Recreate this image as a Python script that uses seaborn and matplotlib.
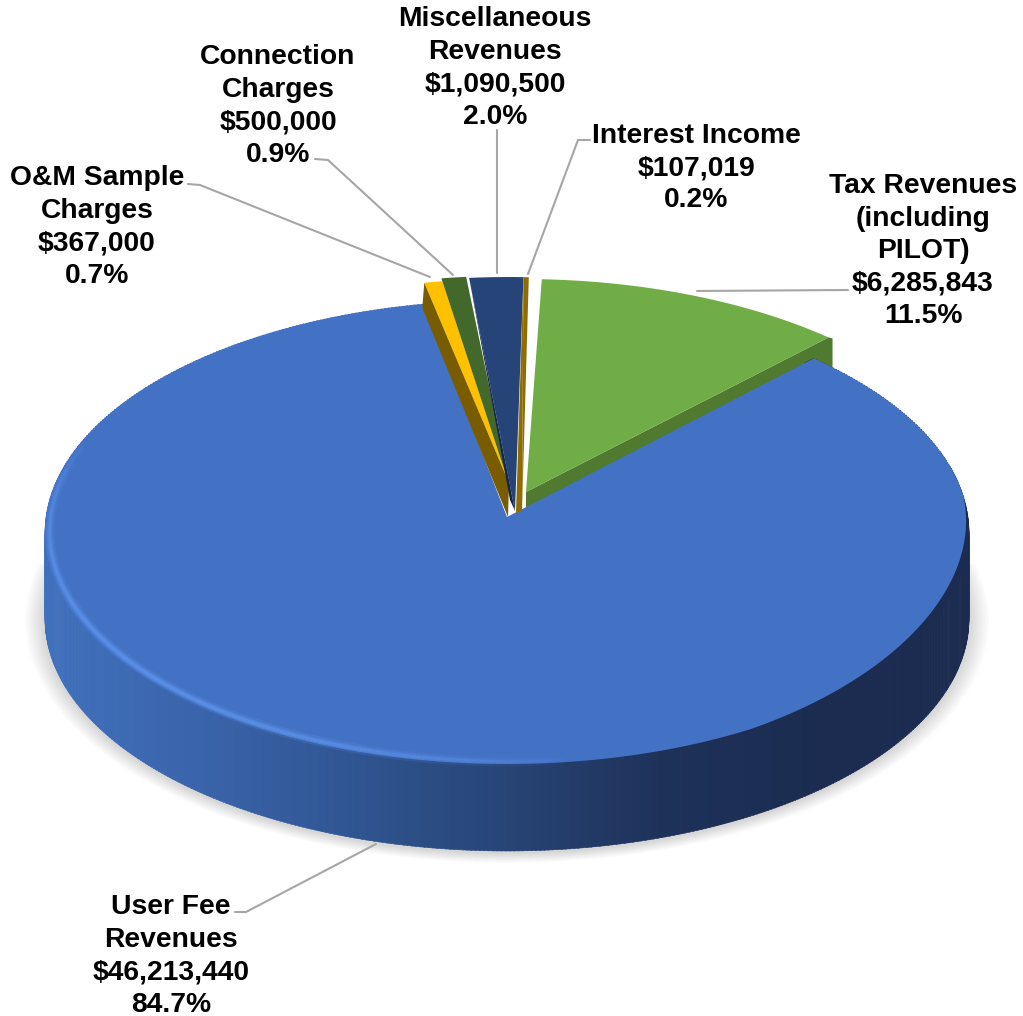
import numpy as np
import matplotlib
matplotlib.use("Agg")
import matplotlib.pyplot as plt
from matplotlib.collections import LineCollection
import seaborn as sns

# Revenue sources, clockwise from the back of the pie
categories = ["O&M Sample\nCharges", "Connection\nCharges", "Miscellaneous\nRevenues",
              "Interest Income", "Tax Revenues\n(including\nPILOT)", "User Fee\nRevenues"]
revenues = [367000, 500000, 1090500, 107019, 6285843, 46213440]

sns.set_theme(style="white")
plt.rcParams["font.family"] = ["Liberation Sans", "DejaVu Sans"]

face_colors = sns.color_palette(["#FFC000", "#43682B", "#264478", "#8F6C00", "#70AD47", "#4371C4"])
wall_colors = sns.color_palette(["#7A5C00", "#2F4A1E", "#14264A", "#8F6C00", "#4F7A30", "#4371C4"])
side_ramp = sns.blend_palette(["#4070BC", "#3A64AB", "#2F5591", "#274475", "#1E3159", "#1B2C50", "#1B2C50"], 256)

# Projection of the pie disc onto the page
CX, CY, RX, RY, PERSP = 507.0, 517.0, 461.0, 231.0, 0.0647
DEPTH = 87.0
START = 349.0

# Screen shift of each raised slice: (at the hub), (at the rim), and the foot of its inner wall
raise_hub = [(2, -34), (4, -27), (8, -6), (15, -6), (19, -25)]
raise_rim = [(0, -21), (-1, -24), (2, -23), (2, -23), (15, -21)]
wall_foot = [(508, 517), None, (510, 500), (516, 513), None]
wall_drop = [25, 0, 0, 0, 0]


def project(theta, r=1.0):
    t = np.radians(theta)
    u, v = r * np.sin(t), r * np.cos(t)
    w = 1 + PERSP * v
    return CX + RX * u / w, CY - RY * v / w


def arc(a, b, n=200):
    th = np.linspace(a, b, n)
    return project(th)


fig = plt.figure(figsize=(10.23, 10.16), dpi=100)
ax = fig.add_axes([0, 0, 1, 1])
ax.set_xlim(0, 1023)
ax.set_ylim(1016, 0)
ax.axis("off")

total = sum(revenues)
sweeps = [360 * v / total for v in revenues]
edges = START + np.concatenate([[0], np.cumsum(sweeps)])

# Soft shadow beneath the front half of the disc
blue_a, blue_b = edges[5], edges[6]
sx, sy = arc(80, 280, 300)
for grow in np.arange(20, 0, -1.5):
    f = 1 + grow / RX
    ax.fill(CX + (sx - CX) * f, 535 + DEPTH + 2 + (sy - 535) * f, color="0.35", alpha=0.016, lw=0, zorder=1)

# Tax slice wall sits behind the large slice
tax_a, tax_b = edges[4] - 360, edges[5] - 360
ox, oy = project(tax_b)
hx, hy = raise_hub[4]
rx_, ry_ = raise_rim[4]
ax.fill([CX + hx, ox + rx_, ox + rx_ + 4, ox + rx_ + 4, CX + hx],
        [CY + hy, oy + ry_, oy + ry_ + 1, oy + ry_ + 34, CY + hy + 34],
        color=wall_colors[4], lw=0, zorder=2)

# Outer wall of the large slice, shaded left to right
thetas = np.arange(blue_a - 360, blue_b - 360, 0.5)
for a in thetas:
    x0, y0 = project(a)
    x1, y1 = project(a + 0.6)
    xi0, yi0 = project(a, 0.97)
    xi1, yi1 = project(a + 0.6, 0.97)
    mid = 0.5 * (x0 + x1)
    idx = int(np.clip((mid - 45) / 925 * 255, 0, 255))
    ax.fill([xi0, xi1, x1, x1, x0, x0], [yi0, yi1, y1, y1 + DEPTH, y0 + DEPTH, y0],
            color=side_ramp[idx], lw=0.4, ec=side_ramp[idx], zorder=3)

# Top face of the large slice, its rim pulled in a little on the dark right side
face_th = np.linspace(blue_a - 360, blue_b - 360, 500)
inset = 0.018 * np.clip(np.sin(np.pi * (face_th - 85) / 65), 0, 1) * ((face_th > 85) & (face_th < 150))
fx_, fy_ = project(face_th, 1 - inset)
ax.fill(np.r_[CX, fx_], np.r_[CY, fy_], color=face_colors[5], lw=0, zorder=4)

# Bright bevel along the lower left rim
rim_th = np.linspace(172, 290, 240)
rx0, ry0 = project(rim_th, 0.99)
pts = np.column_stack([rx0, ry0]).reshape(-1, 1, 2)
segs = np.concatenate([pts[:-1], pts[1:]], axis=1)
bump = np.clip(np.sin(np.pi * (rim_th[:-1] - 172) / 118), 0, 1) ** 0.7
for lw, strength in [(7, 0.25), (4, 0.45), (2, 0.6)]:
    rgba = np.tile(matplotlib.colors.to_rgba("#5F95EE"), (len(segs), 1))
    rgba[:, 3] = bump * strength
    ax.add_collection(LineCollection(segs, colors=rgba, linewidths=lw, capstyle="butt", zorder=5))

# Raised slices: top face, then the inner wall to its left
for i in range(5):
    a, b = edges[i], edges[i + 1]
    hx, hy = raise_hub[i]
    rx_, ry_ = raise_rim[i]
    lx, ly = project(a)
    tx, ty = arc(a, b, 60)
    ax.fill(np.r_[CX + hx, tx + rx_], np.r_[CY + hy, ty + ry_],
            color=face_colors[i], lw=0, zorder=6 + i)
    if wall_foot[i] is not None:
        fx, fy = wall_foot[i]
        ax.fill([CX + hx, lx + rx_, lx + rx_ - 2 * (wall_drop[i] > 0), fx],
                [CY + hy, ly + ry_, ly + ry_ + wall_drop[i], fy],
                color=wall_colors[i], lw=0, zorder=6 + i)

# Leader lines from the labels to their slices
leaders = [
    ([188, 200, 430], [184, 185, 277]),
    ([315, 328, 453], [159, 160, 275]),
    ([497, 497], [130, 273]),
    ([590, 578, 528], [140, 140, 274]),
    ([848, 697], [290, 291]),
    ([235, 246, 376], [912, 912, 844]),
]
for xs, ys in leaders:
    ax.plot(xs, ys, color="#A6A6A6", lw=1.5, solid_joinstyle="miter", zorder=20)

# Labels: category, dollars, share of the total
label_xy = [(97, 227), (278, 106), (495, 68), (696, 168), (923, 251), (171, 956)]
for name, value, (x, y) in zip(categories, revenues, label_xy):
    text = f"{name}\n${value:,.0f}\n{100 * value / total:.1f}%"
    ax.text(x, y, text, ha="center", va="center", fontsize=20.3, fontweight="bold",
            color="black", linespacing=1.32, zorder=30)

fig.savefig("out.png", dpi=100, facecolor="white")
